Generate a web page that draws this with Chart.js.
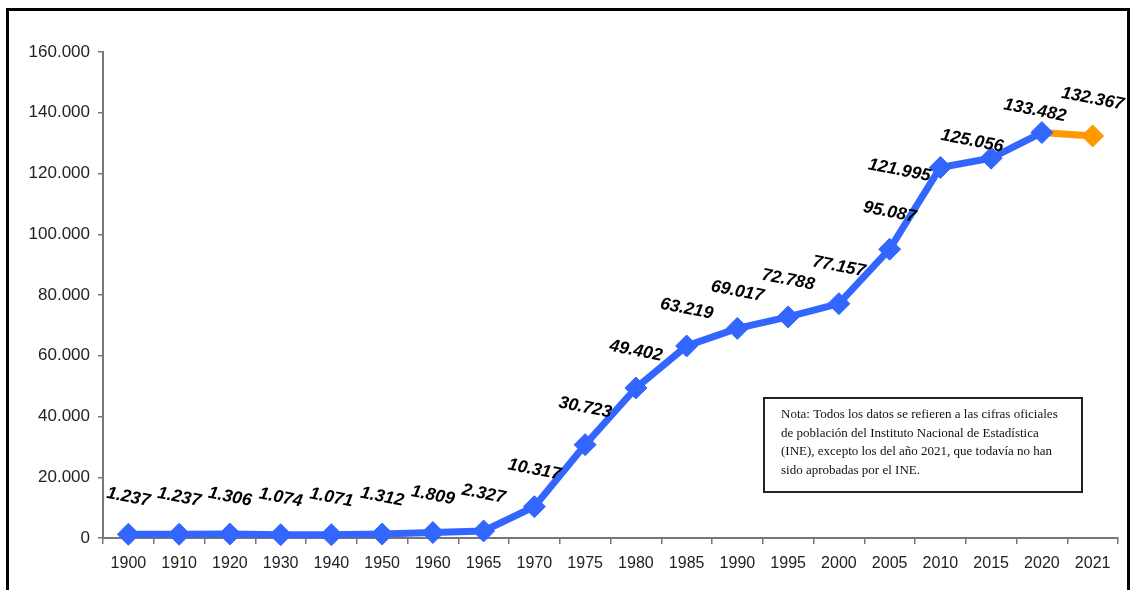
<!DOCTYPE html>
<html>
<head>
<meta charset="utf-8">
<script src="https://cdn.jsdelivr.net/npm/chart.js@4/dist/chart.umd.min.js"></script>
<style>
  html, body { margin: 0; padding: 0; background: #fff; overflow: hidden; }
  #wrap { position: relative; width: 1130px; height: 590px; }
  #frame { position: absolute; left: 6px; top: 8px; width: 1124px; height: 700px;
           border: 3px solid #000; box-sizing: border-box; pointer-events: none; }
  canvas { position: absolute; left: 0; top: 0; }
</style>
</head>
<body>
<div id="wrap">
  <canvas id="c" width="1130" height="590"></canvas>
  <div id="frame"></div>
</div>
<script>
// Population by census year
const years = ['1900','1910','1920','1930','1940','1950','1960','1965','1970','1975',
               '1980','1985','1990','1995','2000','2005','2010','2015','2020','2021'];
const population = [1237, 1237, 1306, 1074, 1071, 1312, 1809, 2327, 10317, 30723,
                    49402, 63219, 69017, 72788, 77157, 95087, 121995, 125056, 133482, 132367];
// the last year is provisional and is drawn in orange
const provisionalYear = '2021';
const yTicks = [0, 20000, 40000, 60000, 80000, 100000, 120000, 140000, 160000];

const noteLines = [
  'Nota: Todos los datos se refieren a las cifras oficiales',
  'de población del Instituto Nacional de Estadística',
  '(INE), excepto los del año 2021, que todavía no han',
  'sido aprobadas por el INE.'
];

const BLUE = '#3366ff';
const ORANGE = '#ff9900';

// thousands separated with a dot
function fmt(v) {
  return String(v).replace(/\B(?=(\d{3})+(?!\d))/g, '.');
}

// label placement relative to each point (default above it)
const labelShift = { '2010': [-41, 3], '2015': [-19, -17], '2020': [-7, -22] };
const defaultShift = [0, -37];

const valueLabels = {
  id: 'valueLabels',
  afterDatasetsDraw(chart) {
    const ctx = chart.ctx;
    const meta = chart.getDatasetMeta(0);
    ctx.save();
    ctx.font = 'italic bold 17.5px "Liberation Sans", Arial, sans-serif';
    ctx.fillStyle = '#000';
    ctx.textAlign = 'center';
    ctx.textBaseline = 'middle';
    meta.data.forEach((pt, i) => {
      const s = labelShift[years[i]] || defaultShift;
      ctx.save();
      ctx.translate(pt.x + s[0], pt.y + s[1]);
      ctx.rotate(11 * Math.PI / 180);
      ctx.fillText(fmt(population[i]), 0, 0);
      ctx.restore();
    });
    ctx.restore();
  }
};

const noteBox = {
  id: 'noteBox',
  afterDraw(chart) {
    const ctx = chart.ctx;
    ctx.save();
    ctx.strokeStyle = '#222';
    ctx.lineWidth = 2;
    ctx.strokeRect(764, 398, 318, 94);
    ctx.fillStyle = '#111';
    ctx.font = '13px "Liberation Serif", "Times New Roman", serif';
    ctx.textAlign = 'left';
    ctx.textBaseline = 'middle';
    noteLines.forEach((t, i) => ctx.fillText(t, 781, 415 + i * 18.5));
    ctx.restore();
  }
};

const lastIdx = years.indexOf(provisionalYear);

new Chart(document.getElementById('c'), {
  type: 'line',
  data: {
    labels: years,
    datasets: [{
      data: population,
      borderColor: BLUE,
      borderWidth: 7,
      segment: {
        borderColor: c => (c.p1DataIndex === lastIdx ? ORANGE : BLUE)
      },
      pointStyle: 'rectRot',
      pointRadius: 11,
      pointBorderWidth: 1,
      pointBackgroundColor: years.map((y, i) => (i === lastIdx ? ORANGE : BLUE)),
      pointBorderColor: years.map((y, i) => (i === lastIdx ? ORANGE : BLUE)),
      tension: 0,
      clip: false
    }]
  },
  options: {
    responsive: false,
    animation: false,
    devicePixelRatio: 1,
    layout: { padding: { top: 52, right: 11, bottom: 0, left: 0 } },
    plugins: { legend: { display: false }, tooltip: { enabled: false } },
    scales: {
      x: {
        offset: true,
        grid: { offset: true, drawOnChartArea: false, drawTicks: true, tickLength: 6,
                color: '#777', lineWidth: 1.5 },
        border: { color: '#777', width: 2 },
        ticks: { color: '#222', padding: 10, maxRotation: 0, autoSkip: false,
                 font: { family: '"Liberation Sans", Arial, sans-serif', size: 16 } },
        afterFit(scale) { scale.height = 52; }
      },
      y: {
        min: 0, max: 160000,
        afterBuildTicks(scale) { scale.ticks = yTicks.map(v => ({ value: v })); },
        grid: { drawOnChartArea: false, drawTicks: true, tickLength: 5,
                color: '#777', lineWidth: 1.5 },
        border: { color: '#777', width: 2 },
        ticks: { color: '#222', padding: 8,
                 font: { family: '"Liberation Sans", Arial, sans-serif', size: 17 },
                 callback: v => fmt(v) },
        afterFit(scale) { scale.width = 103; }
      }
    }
  },
  plugins: [valueLabels, noteBox]
});
</script>
</body>
</html>
